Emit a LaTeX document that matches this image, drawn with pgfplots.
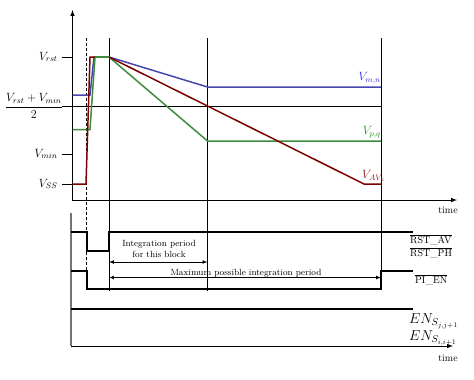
\documentclass[border=0pt]{standalone}
\usepackage{pgfplots}
\pgfplotsset{compat=1.18}

\definecolor{lblue}{RGB}{70,70,175}
\definecolor{tblue}{RGB}{45,45,225}
\definecolor{lgreen}{RGB}{60,140,60}
\definecolor{tgreen}{RGB}{35,140,35}
\definecolor{lred}{RGB}{125,0,0}
\definecolor{tred}{RGB}{150,20,20}

\begin{document}
\begin{tikzpicture}
\begin{axis}[
    x=1bp, y=1bp, y dir=reverse,
    xmin=0, xmax=474, ymin=0, ymax=379,
    hide axis, clip=false,
]
\path (axis cs:0,0) rectangle (axis cs:474,379);

% upper axes
\addplot[black, line width=1pt, -latex] coordinates {(72.5,200) (72.5,10)};
\addplot[black, line width=1pt, -latex] coordinates {(72,200) (457,200)};
% y ticks
\addplot[black, line width=1pt] coordinates {(62,57) (72.5,57)};
\addplot[black, line width=1pt] coordinates {(62,154) (72.5,154)};
\addplot[black, line width=1pt] coordinates {(62,184) (72.5,184)};
% mid level line
\addplot[black, line width=0.8pt] coordinates {(62,106) (381,106)};

% time markers
\addplot[black, line width=0.5pt, densely dashed] coordinates {(86.5,38) (86.5,290)};
\addplot[black, line width=0.8pt] coordinates {(109,38) (109,291)};
\addplot[black, line width=0.8pt] coordinates {(207.5,38) (207.5,291)};
\addplot[black, line width=0.8pt] coordinates {(381,38) (381,290)};

% voltages
\addplot[lblue, line width=1.5pt] coordinates {(72.5,95) (90,95) (94,57) (109,57) (207.5,87) (381,87)};
\addplot[lgreen, line width=1.5pt] coordinates {(72.5,129.5) (90,129.5) (95,57) (109,57) (207.5,141) (381,141)};
\addplot[lred, line width=1.5pt] coordinates {(72.5,184) (86,184) (90,57) (95,57)};
\addplot[lgreen, line width=1.5pt] coordinates {(95,57) (109,57)};
\addplot[lred, line width=1.5pt] coordinates {(109,57) (207.5,106) (364,184) (381,184)};

% upper labels
\node[anchor=east, font=\large] at (axis cs:61,57) {$V_{rst}$};
\node[anchor=east, inner sep=1pt, font=\large] at (axis cs:64,106) {$\displaystyle\frac{V_{rst}+V_{min}}{2}$};
\node[anchor=east, font=\large] at (axis cs:61,154) {$V_{min}$};
\node[anchor=east, font=\large] at (axis cs:61,184) {$V_{SS}$};
\node[anchor=south east, inner sep=1pt, text=tblue, font=\large] at (axis cs:382,85) {$V_{m,n}$};
\node[anchor=south east, inner sep=1pt, text=tgreen, font=\large] at (axis cs:382,139) {$V_{p,q}$};
\node[anchor=south west, inner sep=1pt, text=tred, font=\large] at (axis cs:361,183) {$V_{AV_k}$};
\node at (axis cs:448,210) {time};

% lower axes
\addplot[black!55, line width=1.3pt] coordinates {(71,213) (71,346)};
\addplot[black, line width=1pt, -latex] coordinates {(71,346) (453,346)};

% digital signals
\addplot[black, line width=1.7pt] coordinates {(71,232) (87,232) (87,251) (109,251) (109,232) (413,232)};
\addplot[black, line width=1.7pt] coordinates {(71,271) (87,271) (87,289) (381,289) (381,271) (413,271)};
\addplot[black, line width=1.7pt] coordinates {(71,309) (413,309)};

% integration period arrows
\addplot[black, line width=0.7pt, latex-latex] coordinates {(109,262) (207.5,262)};
\addplot[black, line width=0.7pt, latex-latex] coordinates {(109,277.5) (381,277.5)};
\node[font=\small, align=center, anchor=south, inner sep=1pt] at (axis cs:159,259) {Integration period\\for this block};
\node[font=\small, anchor=base, inner sep=1pt] at (axis cs:246,275) {Maximum possible integration period};

% lower labels
\node[anchor=west, inner sep=0pt] at (axis cs:410,240) {$\overline{\mbox{RST\_AV}}$};
\node[anchor=west, inner sep=0pt] at (axis cs:410,253) {$\overline{\mbox{RST\_PH}}$};
\node[anchor=west, inner sep=0pt] at (axis cs:415,280) {$\overline{\mbox{PI\_EN}}$};
\node[anchor=west, inner sep=0pt, font=\Large] at (axis cs:409,321) {$EN_{S_{j,j+1}}$};
\node[anchor=west, inner sep=0pt, font=\Large] at (axis cs:409,338) {$EN_{S_{i,i+1}}$};
\node at (axis cs:448,358) {time};
\end{axis}
\end{tikzpicture}
\end{document}
